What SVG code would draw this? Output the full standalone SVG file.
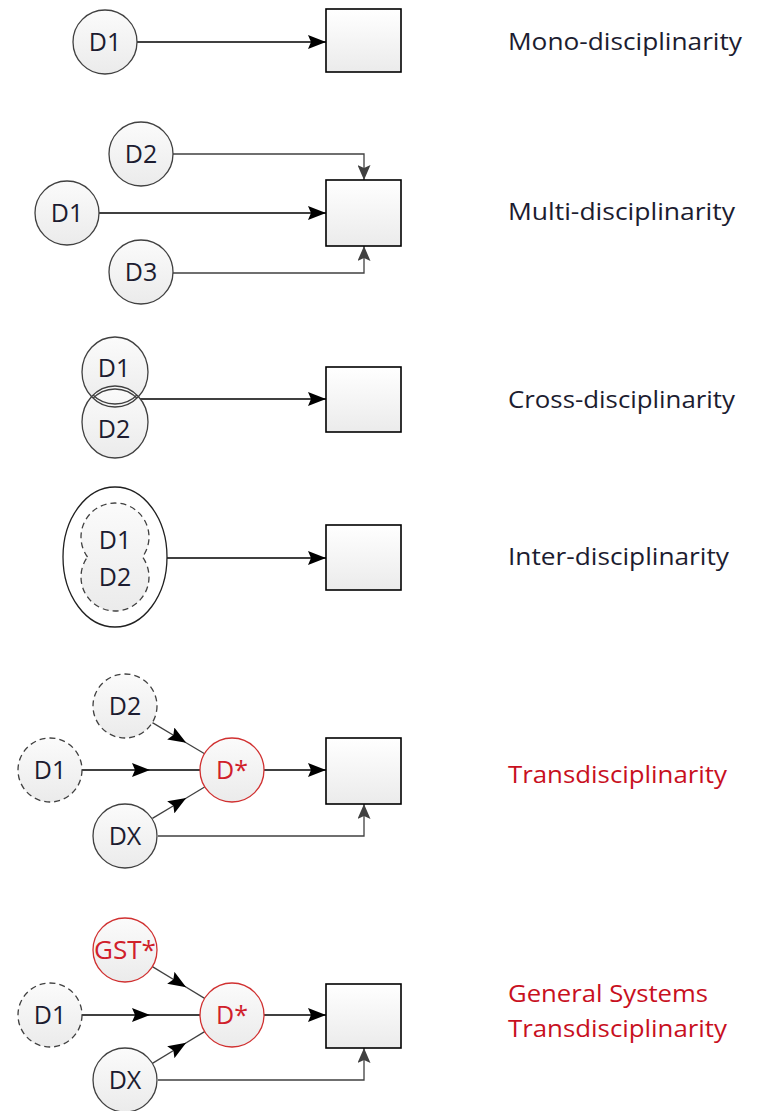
<svg xmlns="http://www.w3.org/2000/svg" width="759" height="1111" viewBox="0 0 759 1111">
<defs>
<linearGradient id="cg" x1="0" y1="0" x2="0" y2="1"><stop offset="0" stop-color="#fbfbfb"/><stop offset="1" stop-color="#ebebeb"/></linearGradient>
<linearGradient id="bg" x1="0" y1="0" x2="0" y2="1"><stop offset="0" stop-color="#ffffff"/><stop offset="1" stop-color="#ebebeb"/></linearGradient>
<marker id="ab" viewBox="0 0 18 14" refX="18" refY="7" markerWidth="18" markerHeight="14" markerUnits="userSpaceOnUse" orient="auto"><path d="M0,0 L18,7 L0,14 L3,7 Z" fill="#000"/></marker>
<marker id="ag" viewBox="0 0 15 13" refX="15" refY="6.5" markerWidth="15" markerHeight="13" markerUnits="userSpaceOnUse" orient="auto"><path d="M0,0 L15,6.5 L0,13 L3,6.5 Z" fill="#404040"/></marker>
<marker id="am" viewBox="0 0 18 14" refX="9" refY="7" markerWidth="18" markerHeight="14" markerUnits="userSpaceOnUse" orient="auto"><path d="M0,0 L18,7 L0,14 L3,7 Z" fill="#000"/></marker>
<clipPath id="clipD2"><ellipse cx="115" cy="422" rx="33" ry="36"/></clipPath>
<clipPath id="clipD1"><ellipse cx="115" cy="372" rx="33" ry="35"/></clipPath>
</defs>
<style>
.c{fill:url(#cg);stroke:#404040;stroke-width:1.3}
.cd{fill:url(#cg);stroke:#404040;stroke-width:1.3;stroke-dasharray:6 4}
.cr{fill:url(#cg);stroke:#d03030;stroke-width:1.3}
.b{fill:url(#bg);stroke:#000;stroke-width:1.6}
.t{font-family:"Open Sans","Liberation Sans",sans-serif;font-size:25px;fill:#1c1c30;text-anchor:middle}
.tr{fill:#d0202a}
.l{font-family:"Open Sans","Liberation Sans",sans-serif;font-size:24px;fill:#1c1c30}
.lr{fill:#c8101e}
.k{fill:none;stroke:#000;stroke-width:1.6}
.g{fill:none;stroke:#404040;stroke-width:1.3}
.m{marker-end:url(#ab)}
.mg{marker-end:url(#ag)}
.mm{marker-mid:url(#am)}
</style>

<g id="connectors">
<path class="k m" d="M137,42 H326"/>
<path class="k m" d="M99,213 H326"/>
<path class="g mg" d="M173,154 H364 V180"/>
<path class="g mg" d="M173,273 H364 V246"/>
<path class="k m" d="M139,399 H326"/>
<path class="k m" d="M167,558 H326"/>
<path class="k mm" d="M82,770 L141,770 L200,770"/>
<path class="g mm" d="M152.4,722.6 L178.5,738.2 L204.6,753.8"/>
<path class="g mm" d="M152.4,818.4 L178.5,802.7 L204.6,787"/>
<path class="k m" d="M264,770 H326"/>
<path class="g mg" d="M158,836 H364 V804"/>
<path class="k mm" d="M82,1015 L141,1015 L200,1015"/>
<path class="g mm" d="M152.4,966.6 L178.5,982.5 L204.6,998.4"/>
<path class="g mm" d="M152.4,1063.4 L178.5,1047.5 L204.6,1031.6"/>
<path class="k m" d="M264,1015 H326"/>
<path class="g mg" d="M158,1080 H364 V1048"/>
</g>

<g id="r1-d1"><circle class="c" cx="105" cy="42" r="32"/><text class="t" x="105" y="51">D1</text></g>
<g id="r1-box"><rect class="b" x="326" y="9" width="75" height="63"/></g>
<g id="r1-label"><text class="l" x="508" y="50" textLength="234" lengthAdjust="spacingAndGlyphs">Mono-disciplinarity</text></g>

<g id="r2-d2"><circle class="c" cx="141" cy="154" r="32"/><text class="t" x="141" y="163">D2</text></g>
<g id="r2-d1"><circle class="c" cx="67" cy="213" r="32"/><text class="t" x="67" y="222">D1</text></g>
<g id="r2-d3"><circle class="c" cx="141" cy="272" r="32"/><text class="t" x="141" y="281">D3</text></g>
<g id="r2-box"><rect class="b" x="326" y="180" width="75" height="66"/></g>
<g id="r2-label"><text class="l" x="508" y="220" textLength="227" lengthAdjust="spacingAndGlyphs">Multi-disciplinarity</text></g>

<g id="r3-d1d2">
<ellipse cx="115" cy="372" rx="33" ry="35" fill="url(#cg)"/>
<ellipse cx="115" cy="422" rx="33" ry="36" fill="url(#cg)"/>
<ellipse cx="115" cy="372" rx="33" ry="35" fill="none" stroke="#404040" stroke-width="1.3"/>
<ellipse cx="115" cy="422" rx="33" ry="36" fill="none" stroke="#404040" stroke-width="1.3"/>
<ellipse cx="115" cy="369" rx="33" ry="35" fill="none" stroke="#404040" stroke-width="1.3" clip-path="url(#clipD2)"/>
<ellipse cx="115" cy="425" rx="33" ry="36" fill="none" stroke="#404040" stroke-width="1.3" clip-path="url(#clipD1)"/>
<text class="t" x="114" y="377">D1</text>
<text class="t" x="114" y="438">D2</text>
</g>
<g id="r3-box"><rect class="b" x="326" y="367" width="75" height="65"/></g>
<g id="r3-label"><text class="l" x="508" y="408" textLength="227" lengthAdjust="spacingAndGlyphs">Cross-disciplinarity</text></g>

<g id="r4-group">
<ellipse cx="115" cy="557" rx="52" ry="70" fill="#fff" stroke="#202020" stroke-width="1.3"/>
<path class="cd" d="M87.5,557 A34,34 0 1 1 142.5,557 A34,34 0 1 1 87.5,557 Z"/>
<text class="t" x="115" y="549">D1</text>
<text class="t" x="115" y="586">D2</text>
</g>
<g id="r4-box"><rect class="b" x="326" y="525" width="75" height="65"/></g>
<g id="r4-label"><text class="l" x="508" y="565" textLength="221" lengthAdjust="spacingAndGlyphs">Inter-disciplinarity</text></g>

<g id="r5-d2"><circle class="cd" cx="125" cy="706" r="32"/><text class="t" x="125" y="715">D2</text></g>
<g id="r5-d1"><circle class="cd" cx="50" cy="770" r="32"/><text class="t" x="50" y="779">D1</text></g>
<g id="r5-dx"><circle class="c" cx="125" cy="836" r="32"/><text class="t" x="125" y="845">DX</text></g>
<g id="r5-dstar"><circle class="cr" cx="232" cy="770" r="32"/><text class="t tr" x="232" y="779">D*</text></g>
<g id="r5-box"><rect class="b" x="326" y="738" width="75" height="66"/></g>
<g id="r5-label"><text class="l lr" x="508" y="783" textLength="219" lengthAdjust="spacingAndGlyphs">Transdisciplinarity</text></g>

<g id="r6-gst"><circle class="cr" cx="125" cy="950" r="32"/><text class="t tr" x="125" y="959" textLength="62" lengthAdjust="spacingAndGlyphs">GST*</text></g>
<g id="r6-d1"><circle class="cd" cx="50" cy="1015" r="32"/><text class="t" x="50" y="1024">D1</text></g>
<g id="r6-dx"><circle class="c" cx="125" cy="1080" r="32"/><text class="t" x="125" y="1089">DX</text></g>
<g id="r6-dstar"><circle class="cr" cx="232" cy="1015" r="32"/><text class="t tr" x="232" y="1024">D*</text></g>
<g id="r6-box"><rect class="b" x="326" y="984" width="75" height="64"/></g>
<g id="r6-label">
<text class="l lr" x="508" y="1002" textLength="200" lengthAdjust="spacingAndGlyphs">General Systems</text>
<text class="l lr" x="508" y="1037" textLength="219" lengthAdjust="spacingAndGlyphs">Transdisciplinarity</text>
</g>
</svg>
